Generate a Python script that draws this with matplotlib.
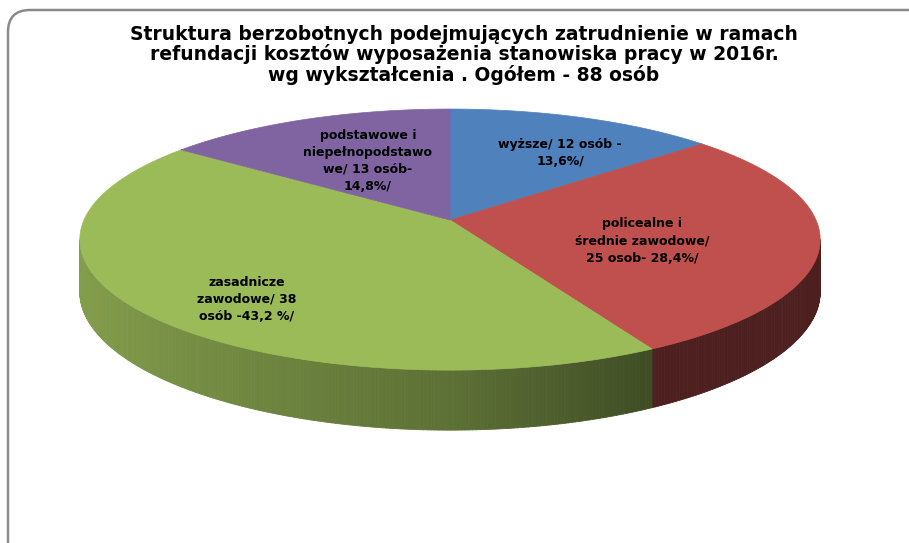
import numpy as np
import matplotlib
matplotlib.use("Agg")
import matplotlib.pyplot as plt
from matplotlib.patches import Polygon, FancyBboxPatch
from matplotlib.collections import PolyCollection
from matplotlib.colors import to_rgb

# data
categories = ["wyższe", "policealne i średnie zawodowe", "zasadnicze zawodowe",
              "podstawowe i niepełnopodstawowe"]
counts = [12, 25, 38, 13]
percents = [13.6, 28.4, 43.2, 14.8]
colors = ["#4f81bd", "#c0504d", "#9bbb59", "#8064a2"]


def pl(p):
    return f"{p:.1f}".replace(".", ",")


labels = [
    f"wyższe/ {counts[0]} osób -\n{pl(percents[0])}%/",
    f"policealne i\nśrednie zawodowe/\n{counts[1]} osob- {pl(percents[1])}%/",
    f"zasadnicze\nzawodowe/ {counts[2]}\nosób -{pl(percents[2])} %/",
    f"podstawowe i\nniepełnopodstawo\nwe/ {counts[3]} osób-\n{pl(percents[3])}%/",
]
label_pos = [(560, 153), (642, 241), (247, 299), (368, 161)]

title_lines = ["Struktura berzobotnych podejmujących zatrudnienie w ramach",
               "refundacji kosztów wyposażenia stanowiska pracy w 2016r.",
               "wg wykształcenia . Ogółem - 88 osób"]

# pie geometry in pixel units
CX, CY = 450, 220
RX, RY = 366, 127.6
K = 0.15          # perspective
DEPTH = 51


def project(theta, r=1.0, drop=0.0):
    t = np.radians(theta)
    u = r * np.sin(t)
    v = r * np.cos(t)
    w = 1 + K * v
    return CX + RX * u / w, CY - RY * v / w + drop / w


def shade(color, theta):
    s = np.sin(np.radians(theta))
    f = 0.6 - (0.25 if s < 0 else 0.4) * s
    f = max(f, 0.4)
    return tuple(c * f for c in to_rgb(color))


fig = plt.figure(figsize=(9.09, 5.43), dpi=100)
ax = fig.add_axes([0, 0, 1, 1])
ax.set_xlim(0, 909)
ax.set_ylim(543, 0)
ax.axis("off")

frame = FancyBboxPatch((8, 10), 940, 560, boxstyle="round,pad=0,rounding_size=22",
                       facecolor="white", edgecolor="#8a8a8a", linewidth=1.8, zorder=0)
ax.add_patch(frame)

total = sum(counts)
bounds = np.concatenate([[0], np.cumsum(counts) / total * 360])
vis_lo = np.degrees(np.arccos(-K))
vis_hi = 360 - vis_lo

# side wall
quads, qcolors = [], []
for i in range(len(counts)):
    a0, a1 = max(bounds[i], vis_lo), min(bounds[i + 1], vis_hi)
    if a1 <= a0:
        continue
    steps = np.linspace(a0, a1, max(int((a1 - a0) * 2), 2))
    for t0, t1 in zip(steps[:-1], steps[1:]):
        x0, y0 = project(t0)
        x1, y1 = project(t1)
        x0b, y0b = project(t0, drop=DEPTH)
        x1b, y1b = project(t1, drop=DEPTH)
        quads.append([(x0, y0), (x1, y1), (x1b, y1b), (x0b, y0b)])
        qcolors.append(shade(colors[i], (t0 + t1) / 2))
ax.add_collection(PolyCollection(quads, facecolors=qcolors, edgecolors=qcolors,
                                 linewidths=0.6, zorder=1))

# top face
for i in range(len(counts)):
    th = np.linspace(bounds[i], bounds[i + 1], 200)
    xs, ys = project(th)
    pts = [(CX, CY)] + list(zip(xs, ys))
    ax.add_patch(Polygon(pts, closed=True, facecolor=colors[i],
                         edgecolor=colors[i], linewidth=0.5, zorder=2))

for lab, (x, y) in zip(labels, label_pos):
    ax.text(x, y, lab, ha="center", va="center", fontsize=9, fontweight="bold",
            linespacing=1.4, color="black", zorder=3)

for k, line in enumerate(title_lines):
    ax.text(464, 40 + 20.5 * k, line, ha="center", va="baseline", fontsize=13.5,
            fontweight="heavy", zorder=3)

fig.savefig("out.png", dpi=100)
